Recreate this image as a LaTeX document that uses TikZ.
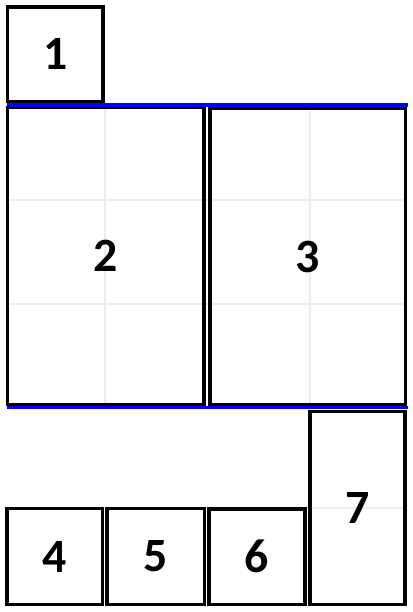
\documentclass[tikz,border=0pt]{standalone}
\usepackage{fontspec}
\setmainfont{Carlito}
\usepackage{tikz}
\usetikzlibrary{positioning}

\begin{document}
\begin{tikzpicture}[
      x=0.025cm, y=-0.025cm,
      slot/.style={rectangle, draw, line width=2.5pt, inner sep=0pt, font=\fontsize{34}{40}\selectfont\bfseries},
      guide/.style={draw=black!7, line width=2pt},
      rule/.style={draw=blue!95!black, line width=2.2pt}
      ]
      \useasboundingbox (0,0) rectangle (413,612);

      % Light grid behind the large boxes
      \draw[guide] (105,108) -- (105,405);
      \draw[guide] (310,108) -- (310,406);
      \draw[guide] (7,200) -- (406,200);
      \draw[guide] (7,304) -- (406,304);
      \draw[guide] (310,508) -- (405,508);

      % Top box
      \node[slot, minimum width=2.39cm, minimum height=2.36cm] (b1) at (55.25,54.25) {1};

      % Large boxes
      \node[slot, minimum width=4.91cm, minimum height=7.43cm] (b2) at (105.75,256) {2};
      \node[slot, minimum width=4.89cm, minimum height=7.41cm] (b3) at (307.75,256.75) {3};

      % Bottom row
      \node[slot, minimum width=2.39cm, minimum height=2.4cm] (b4) at (54.75,556.5) {4};
      \node[slot, minimum width=2.44cm, minimum height=2.4cm] (b5) at (155.75,556.5) {5};
      \node[slot, minimum width=2.4cm, minimum height=2.39cm] (b6) at (257,556.75) {6};
      \node[slot, minimum width=2.38cm, minimum height=4.83cm] (b7) at (357.5,508) {7};

      % Blue rules
      \coordinate (ruleAL) at (7,105);
      \coordinate (ruleAR) at (408,105);
      \coordinate (ruleBL) at (7,407.5);
      \coordinate (ruleBR) at (408,407.5);
      \draw[rule] (ruleAL) -- (ruleAR);
      \draw[rule] (ruleBL) -- (ruleBR);

   \end{tikzpicture}
\end{document}
